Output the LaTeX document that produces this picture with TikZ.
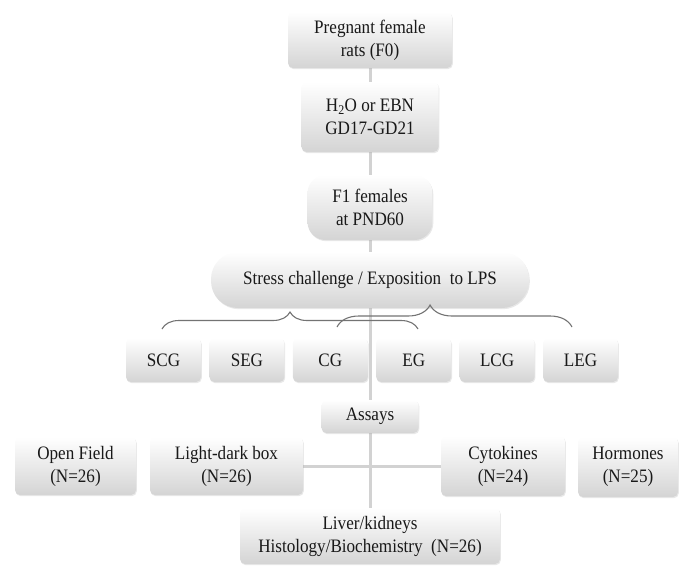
\documentclass[tikz,border=0pt]{standalone}
\usepackage{fontspec}
\setmainfont{Liberation Serif}[FakeStretch=0.9]
\usetikzlibrary{positioning,decorations.pathreplacing,backgrounds,shadows}
\definecolor{boxgray}{RGB}{212,212,212}
\definecolor{linkgray}{RGB}{210,210,210}
\definecolor{bracegray}{RGB}{115,115,115}
\definecolor{inkgray}{RGB}{25,25,25}

\begin{document}
\begin{tikzpicture}[x=1pt,y=-1pt,node distance=8pt,
    box/.style={rounded corners=5pt,top color=white,bottom color=boxgray,inner sep=2pt,align=center,
      text=inkgray,font=\fontsize{19}{23}\selectfont,
      drop shadow={shadow xshift=0.8pt,shadow yshift=-1.2pt,opacity=0.18,fill=gray}},
    grpbox/.style={box,minimum width=75pt,minimum height=44pt},
    link/.style={draw=linkgray,line width=3pt},
    grp/.style 2 args={decorate,decoration={brace,amplitude=#1,aspect=#2},draw=bracegray,line width=1.1pt}]
    \useasboundingbox (0,0) rectangle (680,565);
    % main column
    \node[box,minimum width=164pt,minimum height=56pt] (preg) at (370,40) {Pregnant female\\rats (F0)};
    \node[box,minimum width=137pt,minimum height=70pt] (h2o) at (370,117) {H\textsubscript{2}O or EBN\\GD17-GD21};
    \node[box,rounded corners=18pt,minimum width=125pt,minimum height=65pt] (f1) at (370,207.5) {F1 females\\at PND60};
    \node[box,rounded corners=27pt,minimum width=318pt,minimum height=56pt] (stress) at (370,280) {Stress challenge / Exposition\ \ to LPS};
    % groups
    \node[grpbox] (scg) at (163.5,360) {SCG};
    \node[grpbox,right=of scg] (seg) {SEG};
    \node[grpbox,right=of seg] (cg) {CG};
    \node[grpbox,right=of cg] (eg) {EG};
    \node[grpbox,right=of eg] (lcg) {LCG};
    \node[grpbox,right=of lcg] (leg) {LEG};
    \coordinate (lbra) at (162,329);
    \coordinate (lbrb) at (418,329);
    \coordinate (rbra) at (337,327);
    \coordinate (rbrb) at (572,327);
    \draw[grp={17pt}{0.5}] (lbra) -- (lbrb);
    \draw[grp={22pt}{0.396}] (rbra) -- (rbrb);
    % assays
    \node[box,minimum width=97pt,minimum height=33pt] (assays) at (370,416.5) {Assays};
    \node[box,minimum width=121pt,minimum height=58pt] (openf) at (75.5,466) {Open Field\\(N=26)};
    \node[box,minimum width=153pt,minimum height=58pt] (ldbox) at (226.5,466) {Light-dark box\\(N=26)};
    \node[box,minimum width=124pt,minimum height=60pt] (cyto) at (503,466) {Cytokines\\(N=24)};
    \node[box,minimum width=100pt,minimum height=60pt] (horm) at (628,467) {Hormones\\(N=25)};
    \node[box,minimum width=260pt,minimum height=56pt] (liver) at (370,536) {Liver/kidneys\\Histology/Biochemistry\ \ (N=26)};
    \begin{scope}[on background layer]
      \draw[link] (preg) -- (h2o);
      \draw[link] (h2o) -- (f1);
      \draw[link] (f1) -- (stress);
      \draw[link] (stress.south) -- (liver.north);
      \draw[link] (ldbox) -- (cyto);
    \end{scope}
  \end{tikzpicture}
\end{document}
